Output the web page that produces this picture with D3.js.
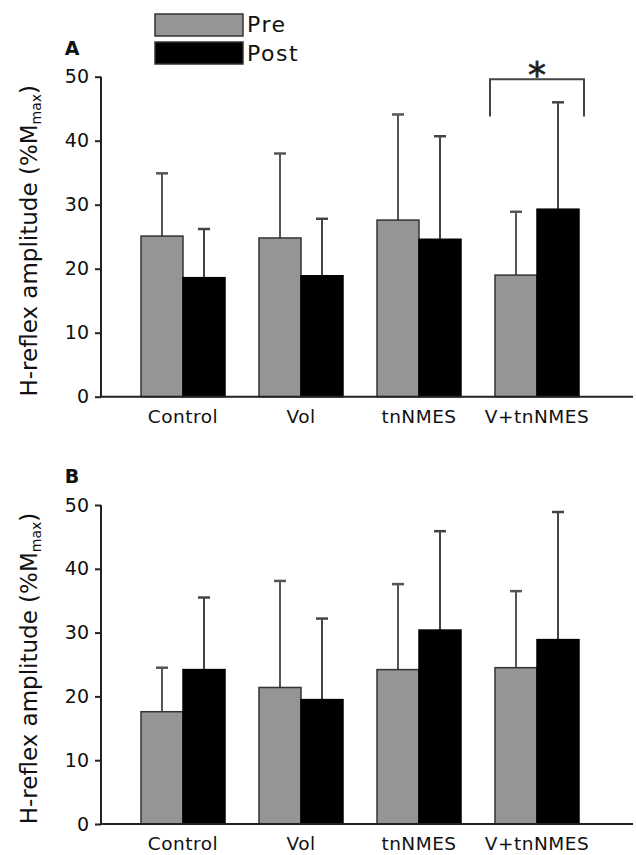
<!DOCTYPE html>
<html><head><meta charset="utf-8">
<script src="https://cdn.jsdelivr.net/npm/d3@7"></script>
<style>body{margin:0;background:#fff}svg{display:block}text{font-family:"DejaVu Sans",Verdana,sans-serif;fill:#111}</style>
</head><body><svg id="c" width="636" height="855"></svg>
<script>
const categories = ["Control","Vol","tnNMES","V+tnNMES"];
const seriesNames = ["Pre","Post"];
const yTicks = [0,10,20,30,40,50];
// Panel A
const aPre = [25.1,24.8,27.6,19.0];
const aPreErr = [34.9,38.0,44.1,28.9];
const aPost = [18.6,18.9,24.6,29.3];
const aPostErr = [26.2,27.8,40.7,46.0];
// Panel B
const bPre = [17.6,21.4,24.2,24.5];
const bPreErr = [24.5,38.1,37.6,36.5];
const bPost = [24.2,19.5,30.4,28.9];
const bPostErr = [35.5,32.2,45.9,48.9];

const svg = d3.select("#c");
const fills = {Pre:"#959595", Post:"#000"};
const strokes = {Pre:"#333", Post:"#000"};
const errCol = {Pre:"#555", Post:"#444"};

const x0 = d3.scaleBand().domain(categories).range([124,596]);
const x1 = d3.scaleBand().domain(seriesNames).range([-42,42]);

function panel(label, top, bottom, pre, preErr, post, postErr, sig){
  const y = d3.scaleLinear().domain([0,50]).range([bottom, top]);
  const g = svg.append("g");
  const rows = [];
  categories.forEach((c,i)=>{
    rows.push({c, s:"Pre", v:pre[i], e:preErr[i]});
    rows.push({c, s:"Post", v:post[i], e:postErr[i]});
  });
  const cx = c => x0(c)+x0.bandwidth()/2;
  rows.forEach(d=>{
    const xm = cx(d.c)+x1(d.s)+x1.bandwidth()/2;
    g.append("line").attr("x1",xm).attr("x2",xm).attr("y1",y(d.v)).attr("y2",y(d.e))
      .attr("stroke",errCol[d.s]).attr("stroke-width",2);
    g.append("line").attr("x1",xm-6).attr("x2",xm+6).attr("y1",y(d.e)).attr("y2",y(d.e))
      .attr("stroke",errCol[d.s]).attr("stroke-width",2.5);
  });
  g.selectAll("rect.bar").data(rows).enter().append("rect")
    .attr("x",d=>cx(d.c)+x1(d.s)).attr("width",x1.bandwidth())
    .attr("y",d=>y(d.v)).attr("height",d=>y(0)-y(d.v))
    .attr("fill",d=>fills[d.s]).attr("stroke",d=>strokes[d.s]).attr("stroke-width",1.5);
  const ax = g.append("g").attr("transform","translate(101,0)")
    .call(d3.axisLeft(y).tickValues(yTicks).tickSize(6).tickPadding(6));
  ax.select(".domain").attr("stroke","#222").attr("stroke-width",2).attr("d",`M-0,${y(0)}V${y(50)}`);
  ax.selectAll(".tick line").attr("stroke","#222").attr("stroke-width",2);
  ax.selectAll(".tick text").attr("font-size",19).attr("fill","#111").style("font-family","DejaVu Sans, Verdana, sans-serif");
  g.append("line").attr("x1",100).attr("x2",633).attr("y1",y(0)).attr("y2",y(0)).attr("stroke","#222").attr("stroke-width",2);
  g.selectAll("text.xl").data(categories).enter().append("text")
    .attr("x",c=>cx(c)).attr("y",y(0)+26).attr("text-anchor","middle").attr("font-size",18.5)
    .attr("letter-spacing",0.5).text(c=>c);
  g.append("text").attr("x",72).attr("y",top-22).attr("text-anchor","middle").attr("font-size",19).attr("font-weight","bold").text(label);
  const t = g.append("text").attr("transform",`translate(37,${(top+bottom)/2+4}) rotate(-90)`)
    .attr("text-anchor","middle").attr("font-size",23);
  t.append("tspan").text("H-reflex amplitude (%M");
  t.append("tspan").attr("font-size",14).attr("dy",4).text("max");
  t.append("tspan").attr("dy",-4).text(")");
  if(sig){
    const xa = cx(sig)-47, xb = cx(sig)+47;
    const yb = y(49.6), yl = y(43.8);
    g.append("path").attr("d",`M${xa},${yl}V${yb}H${xb}V${yl}`).attr("fill","none").attr("stroke","#444").attr("stroke-width",2);
    g.append("text").attr("x",cx(sig)).attr("y",y(51.7)+21).attr("text-anchor","middle").attr("font-size",36)
      .attr("fill","#333").attr("stroke","#333").attr("stroke-width",0.8).text("*");
  }
}
panel("A", 76.7, 396.7, aPre, aPreErr, aPost, aPostErr, "V+tnNMES");
panel("B", 505, 824, bPre, bPreErr, bPost, bPostErr, null);

const lg = svg.append("g");
seriesNames.forEach((s,i)=>{
  lg.append("rect").attr("x",155).attr("y",14+i*28).attr("width",88).attr("height",22)
    .attr("fill",fills[s]).attr("stroke","#333").attr("stroke-width",1.5);
  lg.append("text").attr("x",247).attr("y",32+i*29).attr("font-size",22).attr("letter-spacing",1.5).text(s);
});
</script></body></html>
